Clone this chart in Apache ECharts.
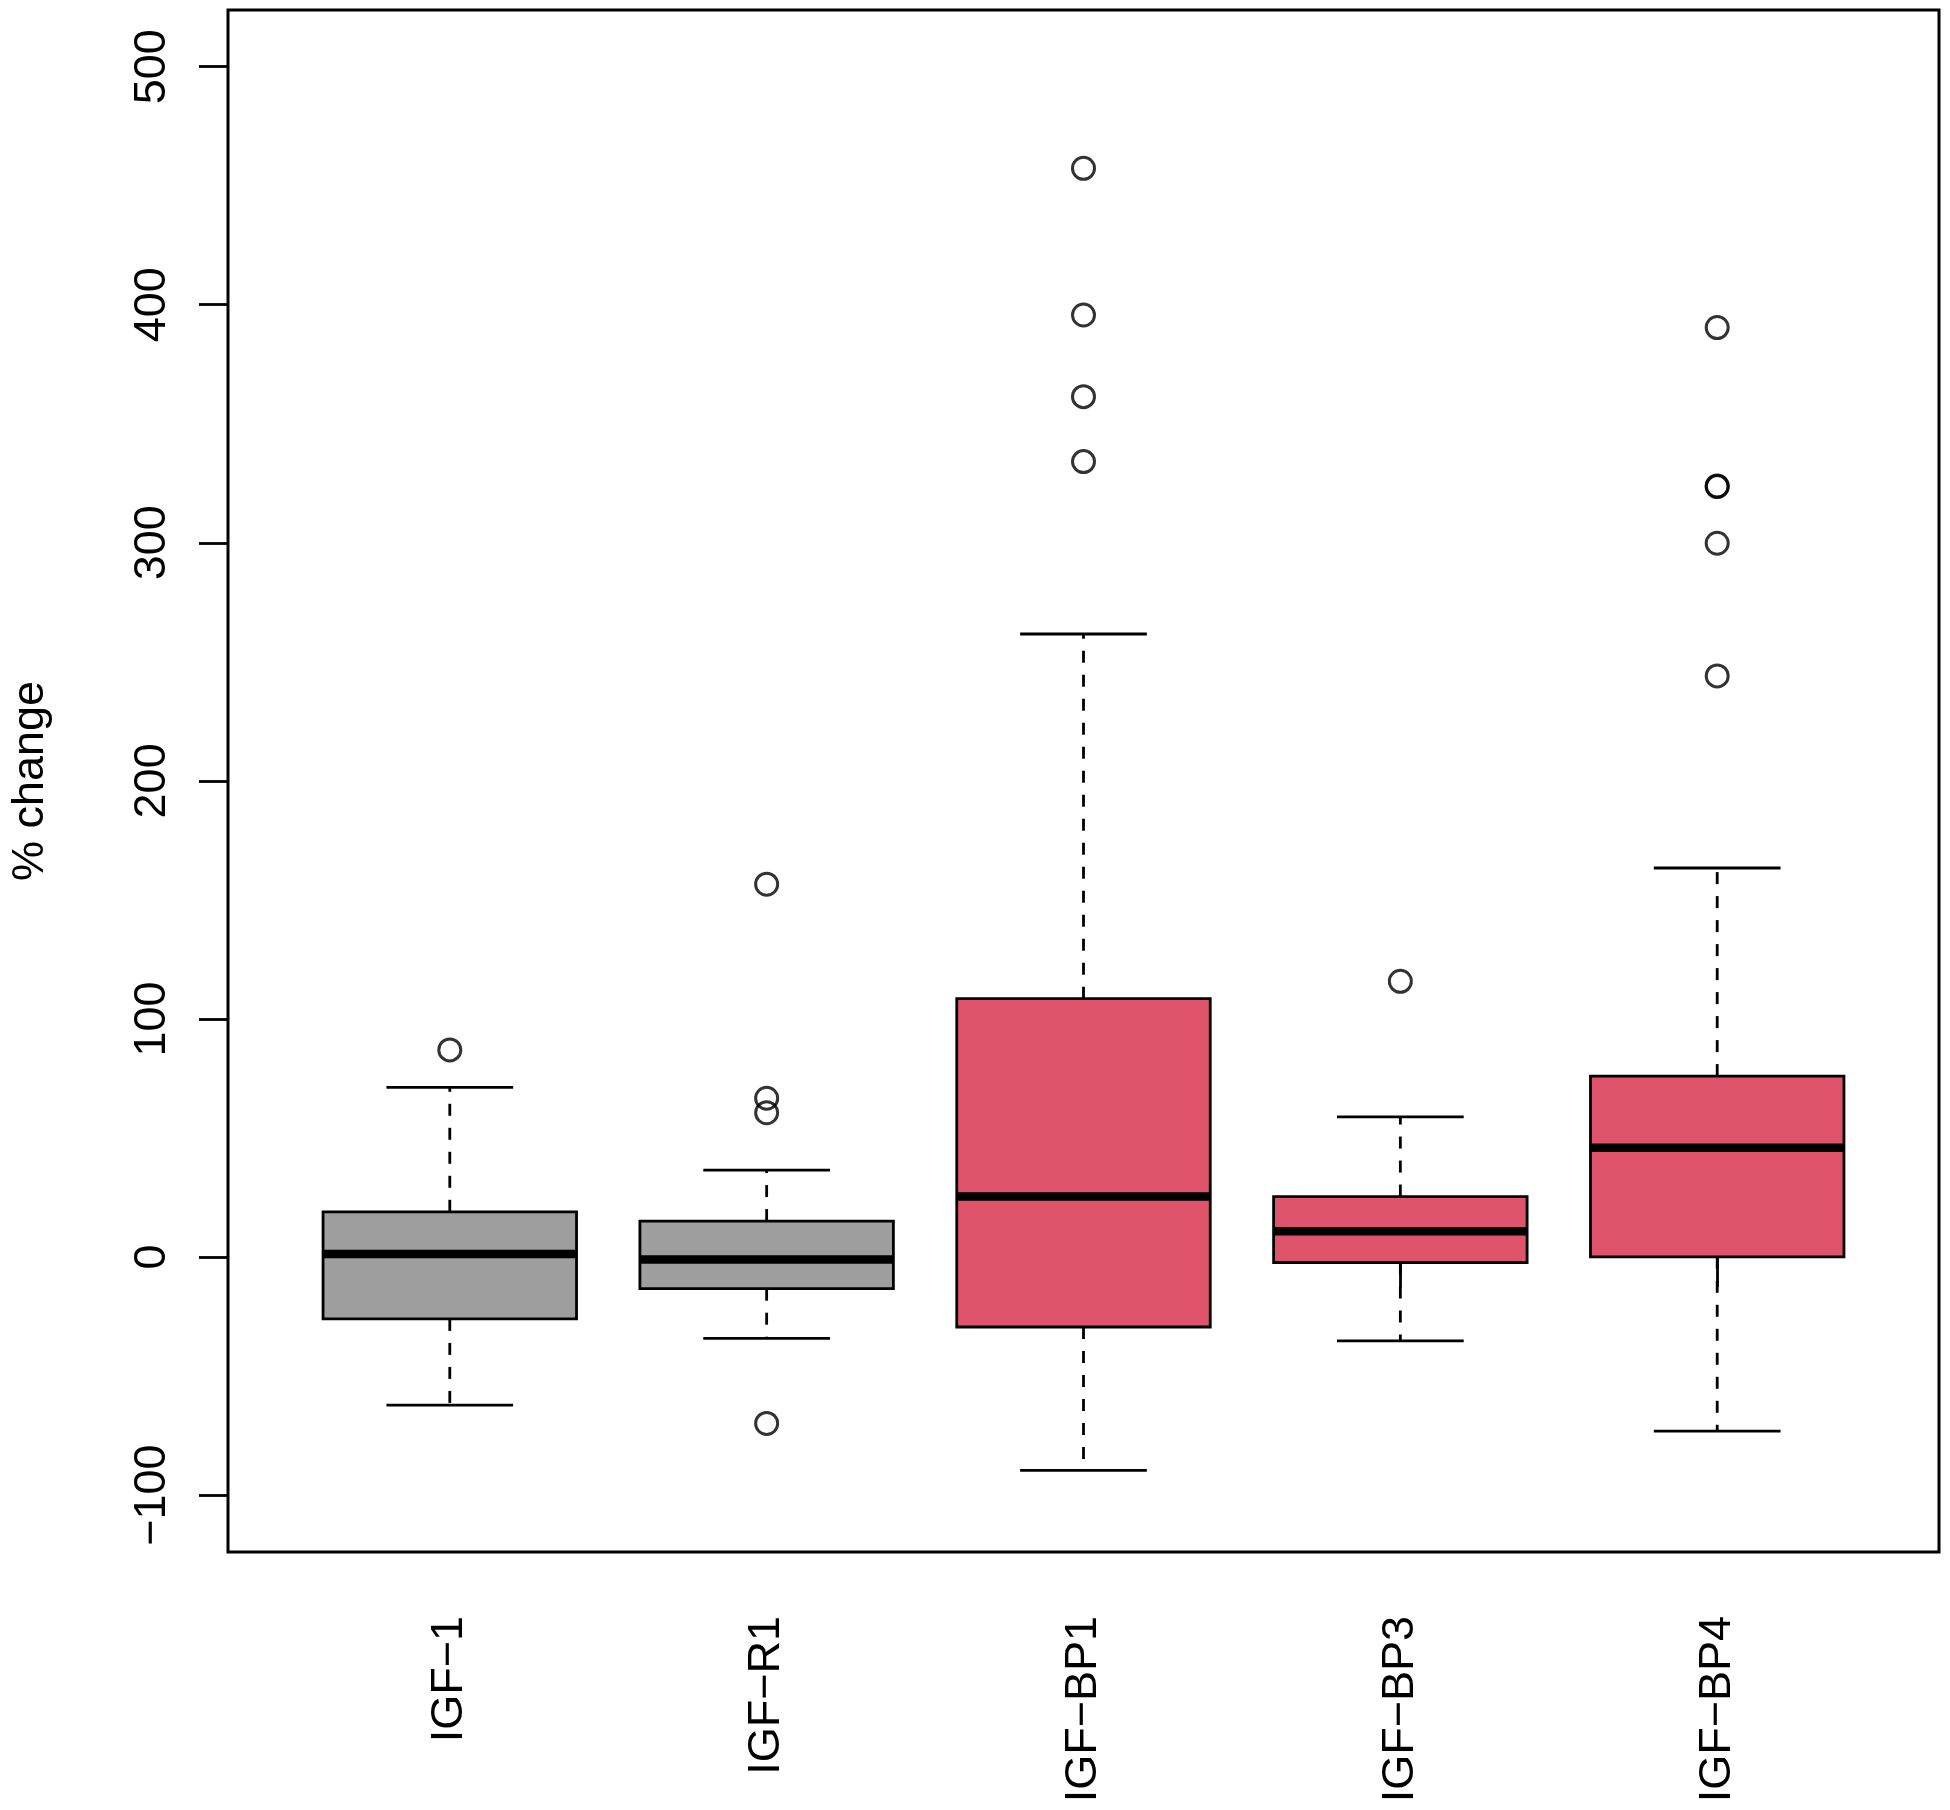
<!DOCTYPE html>
<html><head><meta charset="utf-8">
<script src="https://cdn.jsdelivr.net/npm/echarts@6/dist/echarts.min.js"></script>
<style>html,body{margin:0;padding:0;background:#fff}#chart{width:1950px;height:1810px}</style>
</head><body><div id="chart"></div>
<script>
// ---- data ----
const categories = ['IGF\u22121', 'IGF\u2212R1', 'IGF\u2212BP1', 'IGF\u2212BP3', 'IGF\u2212BP4'];
const lowerWhisker = [-62.2, -34.2, -89.6, -35.2, -73.1];
const q1 = [-26.0, -13.3, -29.4, -2.3, 0.1];
const median = [1.3, -1.0, 25.4, 10.8, 45.9];
const q3 = [19.0, 15.1, 108.5, 25.4, 76.0];
const upperWhisker = [71.3, 36.5, 261.7, 58.9, 163.4];
const outliers = [
  [87.0],
  [156.6, 66.7, 60.6, -69.9],
  [457.3, 395.7, 361.4, 334.1],
  [115.8],
  [390.4, 323.9, 323.6, 299.8, 244.1]
];
const yTicks = [-100, 0, 100, 200, 300, 400, 500];
const yLabel = '% change';

// ---- styles ----
const boxColors = ['#9E9E9E', '#9E9E9E', '#DF536B', '#DF536B', '#DF536B'];
const FONT = '"Liberation Sans", Arial, Helvetica, sans-serif';

const positions = categories.map((c, i) => i + 1);
const boxData = positions.map((p, i) => [p, lowerWhisker[i], q1[i], median[i], q3[i], upperWhisker[i]]);
const outlierData = [];
outliers.forEach((arr, i) => arr.forEach(v => outlierData.push([positions[i], v])));

const chart = echarts.init(document.getElementById('chart'), null, {renderer: 'canvas'});

function renderBox(params, api) {
  const x = api.value(0);
  const lo = api.value(1), b1 = api.value(2), md = api.value(3), b3 = api.value(4), hi = api.value(5);
  const hw = 0.4, cw = 0.2;
  const c = api.coord;
  const pLo = c([x, lo]), pB1 = c([x, b1]), pMd = c([x, md]), pB3 = c([x, b3]), pHi = c([x, hi]);
  const xl = c([x - hw, 0])[0], xr = c([x + hw, 0])[0];
  const cl = c([x - cw, 0])[0], cr = c([x + cw, 0])[0];
  const lineStyle = {stroke: '#000', lineWidth: 2.8, fill: null};
  const dashStyle = {stroke: '#000', lineWidth: 2.8, lineDash: [12, 12], fill: null};
  return {
    type: 'group',
    children: [
      {type: 'line', shape: {x1: pB3[0], y1: pB3[1], x2: pHi[0], y2: pHi[1]}, style: dashStyle},
      {type: 'line', shape: {x1: pB1[0], y1: pB1[1], x2: pLo[0], y2: pLo[1]}, style: dashStyle},
      {type: 'line', shape: {x1: cl, y1: pHi[1], x2: cr, y2: pHi[1]}, style: lineStyle},
      {type: 'line', shape: {x1: cl, y1: pLo[1], x2: cr, y2: pLo[1]}, style: lineStyle},
      {type: 'rect', shape: {x: xl, y: pB3[1], width: xr - xl, height: pB1[1] - pB3[1]},
        style: {fill: boxColors[params.dataIndex], stroke: '#000', lineWidth: 2.8}},
      {type: 'line', shape: {x1: xl, y1: pMd[1], x2: xr, y2: pMd[1]}, style: {stroke: '#000', lineWidth: 8.5}}
    ]
  };
}

chart.setOption({
  animation: false,
  backgroundColor: '#fff',
  grid: {left: 225, right: 11, top: 10, bottom: 258, show: true, borderColor: '#000', borderWidth: 3, backgroundColor: 'transparent'},
  xAxis: {
    type: 'value', min: 0.3, max: 5.7,
    splitLine: {show: false},
    axisLine: {show: false},
    axisTick: {show: true, length: 30, lineStyle: {color: '#000', width: 2.8}, customValues: positions},
    axisLabel: {
      customValues: positions, rotate: 90, margin: 64,
      formatter: v => categories[Math.round(v) - 1] || '',
      fontFamily: FONT, fontSize: 45, color: '#000'
    }
  },
  yAxis: {
    type: 'value', min: -123.9, max: 523.8,
    name: yLabel, nameLocation: 'middle', nameRotate: 90, nameGap: 175,
    nameTextStyle: {fontFamily: FONT, fontSize: 45, color: '#000'},
    splitLine: {show: false},
    axisLine: {show: false},
    axisTick: {show: true, length: 29, lineStyle: {color: '#000', width: 2.8}, customValues: yTicks},
    axisLabel: {
      customValues: yTicks, rotate: 90, margin: 53,
      fontFamily: FONT, fontSize: 45, color: '#000',
      formatter: v => (v < 0 ? '\u2212' + Math.abs(v) : String(v))
    }
  },
  series: [
    {type: 'custom', renderItem: renderBox, data: boxData, encode: {x: 0, y: [1, 2, 3, 4, 5]}, z: 2},
    {type: 'scatter', data: outlierData, symbol: 'circle', symbolSize: 22,
      itemStyle: {color: 'rgba(0,0,0,0)', borderColor: '#000', borderWidth: 3}, z: 3}
  ]
});
</script></body></html>
